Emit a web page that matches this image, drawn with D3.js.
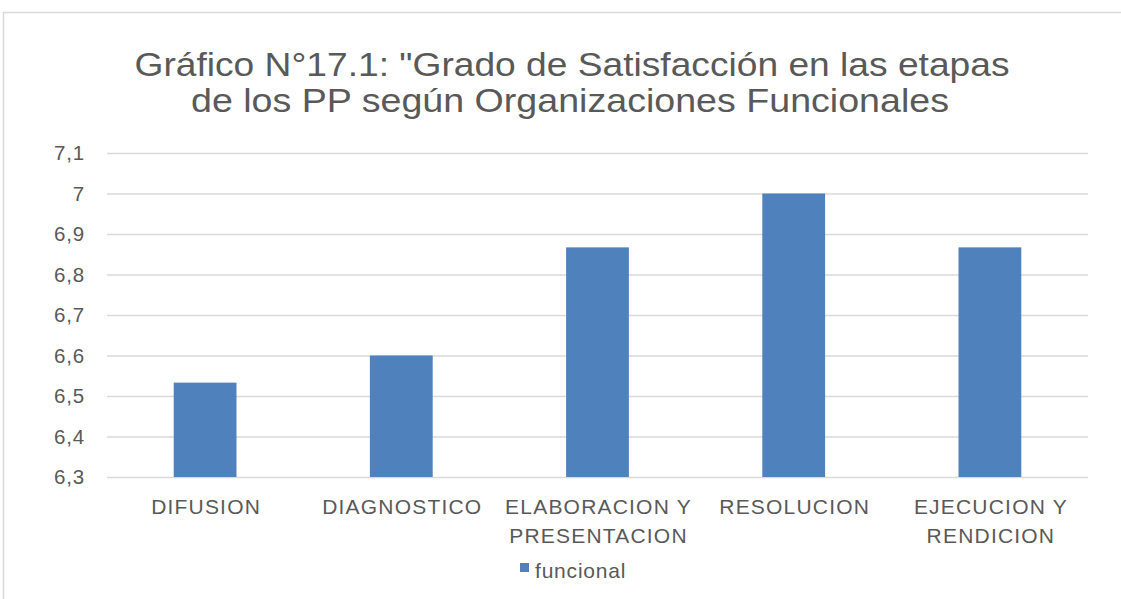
<!DOCTYPE html>
<html><head><meta charset="utf-8">
<script src="https://cdn.jsdelivr.net/npm/d3@7"></script>
<style>body{margin:0;background:#fff}svg{display:block;font-family:"Liberation Sans",Arial,sans-serif}</style>
</head><body><svg id="c" width="1121" height="599"></svg>
<script>
const categories = [["DIFUSION"],["DIAGNOSTICO"],["ELABORACION Y","PRESENTACION"],["RESOLUCION"],["EJECUCION Y","RENDICION"]];
const values = [6.533, 6.6, 6.867, 7.0, 6.867];
const tickValues = [6.3,6.4,6.5,6.6,6.7,6.8,6.9,7.0,7.1];
const tickLabels = ["6,3","6,4","6,5","6,6","6,7","6,8","6,9","7","7,1"];
const seriesName = "funcional";
const titleLines = ["Gráfico N°17.1: \"Grado de Satisfacción en las etapas","de los PP según Organizaciones Funcionales"];

const svg = d3.select("#c");
const txt="#595959";
svg.append("rect").attr("x",3.5).attr("y",12.5).attr("width",1130).attr("height",600).attr("fill","#fff").attr("stroke","#d9d9d9").attr("stroke-width",1.5);

const m={l:107,r:1088,t:153,b:477};
const x=d3.scaleBand().domain(d3.range(categories.length)).range([m.l,m.r]).paddingInner(0.68).paddingOuter(0.34);
const y=d3.scaleLinear().domain([6.3,7.1]).range([m.b,m.t]);

const yAxis=d3.axisLeft(y).tickValues(tickValues).tickFormat((d,i)=>tickLabels[i]).tickSize(-(m.r-m.l)).tickPadding(22);
const gy=svg.append("g").attr("transform",`translate(${m.l},0)`).call(yAxis);
gy.select(".domain").remove();
gy.selectAll(".tick line").attr("stroke","#d9d9d9").attr("stroke-width",1.5);
gy.selectAll(".tick text").attr("fill",txt).attr("font-size",20.5).attr("letter-spacing",0.8).attr("font-family","Liberation Sans, Arial");

svg.append("g").selectAll("rect").data(values).join("rect")
 .attr("x",(d,i)=>x(i)).attr("width",x.bandwidth())
 .attr("y",d=>y(d)).attr("height",d=>y(6.3)-y(d)).attr("fill","#4f81bd");

const gx=svg.append("g");
categories.forEach((lines,i)=>{
  const cx=x(i)+x.bandwidth()/2+1;
  const t=gx.append("text").attr("x",cx).attr("y",514).attr("text-anchor","middle")
   .attr("fill",txt).attr("font-size",21).attr("letter-spacing",1.2);
  lines.forEach((l,j)=>t.append("tspan").attr("x",cx).attr("dy",j?29:0).text(l));
});

const tg=svg.append("g");
tg.append("text").attr("x",572).attr("y",76).attr("text-anchor","middle").attr("fill",txt).attr("font-size",34).attr("textLength",875).attr("lengthAdjust","spacingAndGlyphs").text(titleLines[0]);
tg.append("text").attr("x",570).attr("y",112).attr("text-anchor","middle").attr("fill",txt).attr("font-size",34).attr("textLength",758).attr("lengthAdjust","spacingAndGlyphs").text(titleLines[1]);

const lg=svg.append("g");
lg.append("rect").attr("x",520).attr("y",563).attr("width",9).attr("height",9).attr("fill","#4f81bd");
lg.append("text").attr("x",535).attr("y",578).attr("fill",txt).attr("font-size",21).attr("letter-spacing",0.8).text(seriesName);
</script></body></html>
